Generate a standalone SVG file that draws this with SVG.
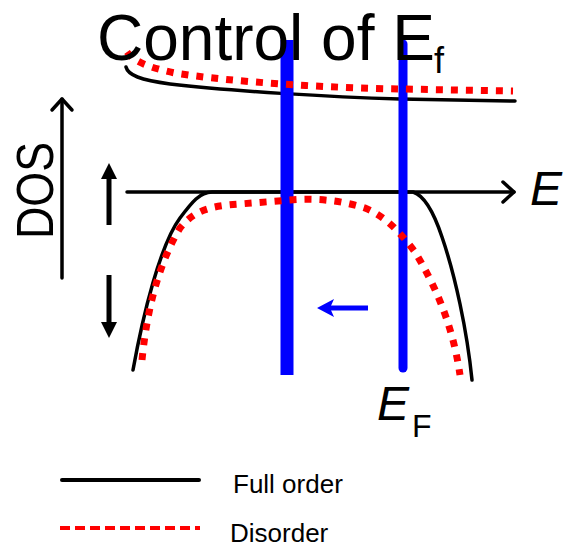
<svg xmlns="http://www.w3.org/2000/svg" width="569" height="547" viewBox="0 0 569 547">
<style>
.k{fill:none;stroke:#000;stroke-width:3.5;stroke-linecap:round;stroke-linejoin:round}
.r{fill:none;stroke:#FF0000;stroke-width:7;stroke-dasharray:7 8}
.b{stroke:#0000FF;fill:none}
.t{font-family:"Liberation Sans",Arial,sans-serif;fill:#000}
.i{font-style:italic}
</style>
<rect width="569" height="547" fill="#fff"/>
<g id="axes">
<line class="k" x1="62" y1="278" x2="62" y2="99"/>
<polyline class="k" points="52,110 62,99 72,110"/>
<line class="k" x1="127" y1="192" x2="514" y2="192"/>
<polyline class="k" points="503,182 514,192 503,202"/>
<text class="t" font-size="52" textLength="97" lengthAdjust="spacingAndGlyphs" transform="translate(53,239) rotate(-90)">DOS</text>
<text class="t i" x="530" y="205" font-size="48">E</text>
</g>
<g id="full-order">
<path class="k" stroke-width="4" d="M126,67 C128,75 140,80 170,84 C230,91 330,97 400,99 L515,101"/>
<path class="k" d="M133,370 C143,315 160,245 180,218 C192,202 200,192 212,192 L413,192 C423,195 433,210 442,237 C455,275 467,330 472,380"/>
</g>
<g id="fermi-levels">
<line class="b" x1="287" y1="40" x2="287" y2="375" stroke-width="13"/>
<line class="b" x1="403" y1="44" x2="403" y2="368" stroke-width="9" stroke-linecap="round"/>
<line class="b" x1="368" y1="308" x2="328" y2="308" stroke-width="5"/>
<polygon points="317,308 334,299 330,308 334,317" fill="#0000FF"/>
</g>
<g id="disorder">
<path class="r" d="M127,52 C133,60 145,67 175,73 C230,82 330,88 400,89 L513,91"/>
<path class="r" d="M142,360 C146,320 155,270 180,228 C195,210 210,206 240,204 L290,200 C315,198 340,200 365,208 C385,216 400,232 415,252 C432,280 452,320 460,375"/>
</g>
<g id="shift-arrows">
<line x1="109" y1="225" x2="109" y2="175" stroke="#000" stroke-width="5"/>
<polygon points="109,163 101,179 117,179" fill="#000"/>
<line x1="109" y1="275" x2="109" y2="325" stroke="#000" stroke-width="5"/>
<polygon points="109,338 101,322 117,322" fill="#000"/>
</g>
<g id="title">
<text class="t" x="97" y="60" font-size="64">Control of E</text>
<text class="t" x="434" y="73" font-size="36">f</text>
</g>
<g id="ef-label">
<text class="t i" x="377" y="420" font-size="48">E</text>
<text class="t" x="412" y="437" font-size="32">F</text>
</g>
<g id="legend">
<line x1="62" y1="480" x2="199" y2="480" stroke="#000" stroke-width="4" stroke-linecap="round"/>
<line x1="60" y1="528" x2="200" y2="528" stroke="#FF0000" stroke-width="4" stroke-dasharray="10 5"/>
<text class="t" x="233" y="493" font-size="26">Full order</text>
<text class="t" x="230" y="542" font-size="26">Disorder</text>
</g>
</svg>
